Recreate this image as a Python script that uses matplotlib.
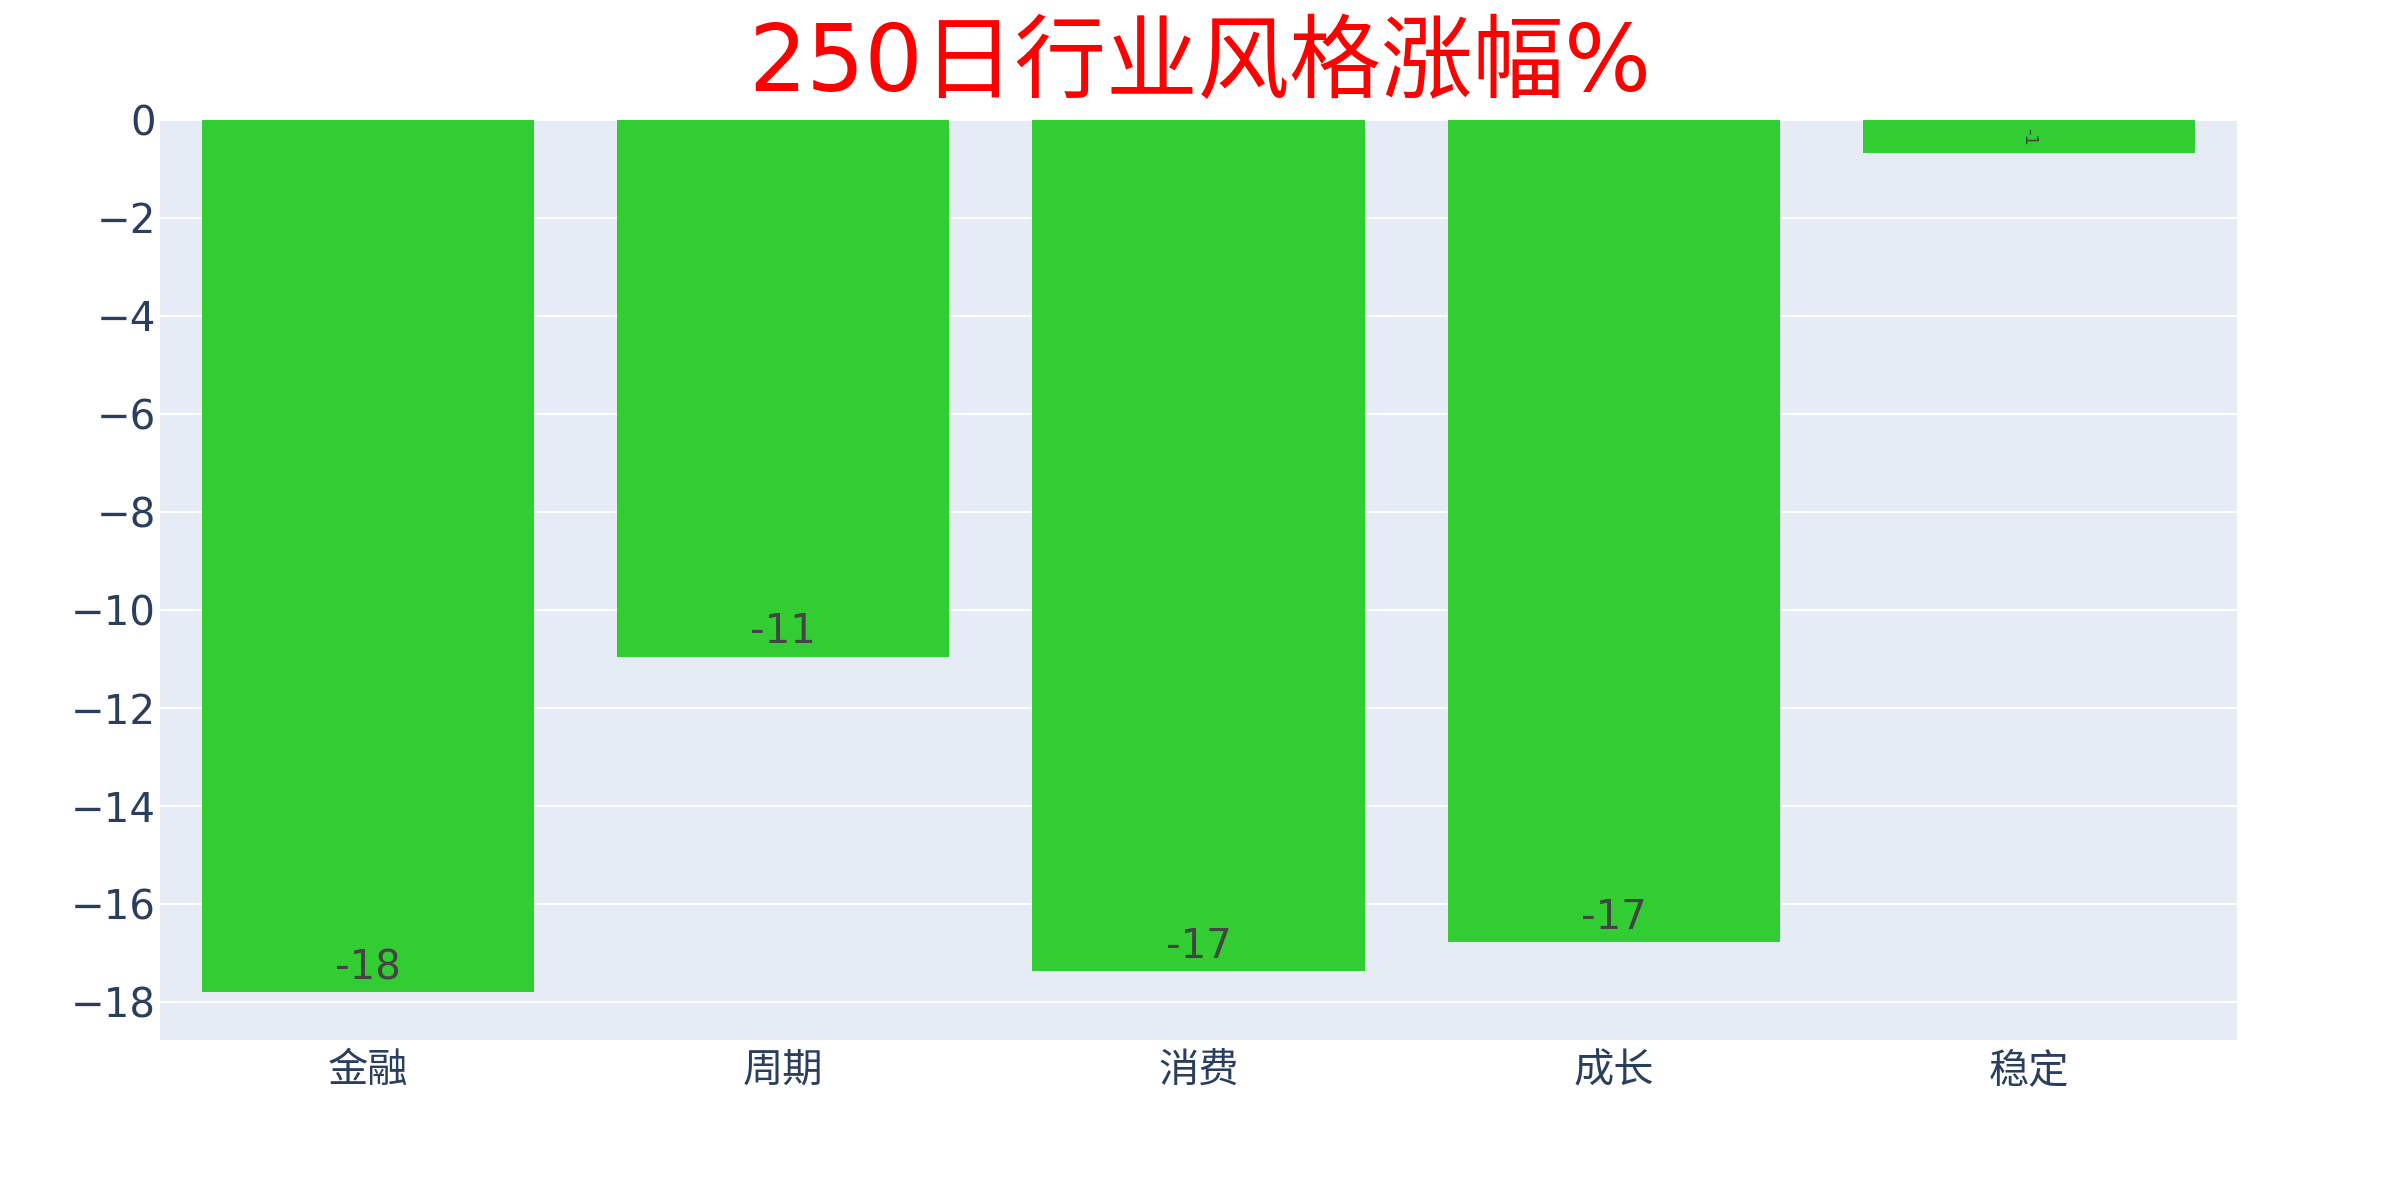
import matplotlib
matplotlib.use("Agg")
import matplotlib.pyplot as plt

plt.rcParams['font.family'] = ['DejaVu Sans', 'Noto Sans CJK SC']

# data
categories = ["金融", "周期", "消费", "成长", "稳定"]
values = [-17.8, -10.95, -17.37, -16.78, -0.69]
labels = ["-18", "-11", "-17", "-17", "-1"]
yticks = [0, -2, -4, -6, -8, -10, -12, -14, -16, -18]

fig = plt.figure(figsize=(24, 12), dpi=100)
ax = fig.add_axes([0.0667, 0.1333, 0.8653, 0.767])
ax.set_facecolor("#E5ECF6")

x = list(range(len(categories)))
bars = ax.bar(x, values, width=0.8, color="#32CD32", zorder=3)

ax.set_xlim(-0.5, len(categories) - 0.5)
ax.set_ylim(-18.77, 0)
ax.set_yticks(yticks)
ax.set_yticklabels([("\u2212" + str(-t)) if t < 0 else str(t) for t in yticks])
ax.set_xticks(x)
ax.set_xticklabels(categories)
ax.grid(axis="y", color="white", linewidth=1.5, zorder=0)
ax.tick_params(axis="both", length=0, labelsize=29, colors="#2a3f5f")
ax.tick_params(axis="y", pad=3)
ax.tick_params(axis="x", pad=8)
for s in ax.spines.values():
    s.set_visible(False)

# bar value labels, inside near the end
for xi, v, lab in zip(x, values, labels):
    if abs(v) > 3:
        ax.annotate(lab, (xi, v), xytext=(0, 9.5), textcoords="offset points",
                    ha="center", va="baseline", fontsize=29, color="#444444", zorder=4)
    else:
        ax.annotate(lab, (xi, v / 2), ha="center", va="center", rotation=-90,
                    fontsize=13, color="#444444", zorder=4)

fig.text(0.5, 0.946, "250日行业风格涨幅%", ha="center", va="center",
         fontsize=66, color="red", family=['DejaVu Sans', 'Noto Sans CJK SC'])

fig.savefig("out.png", dpi=100, facecolor="white")
